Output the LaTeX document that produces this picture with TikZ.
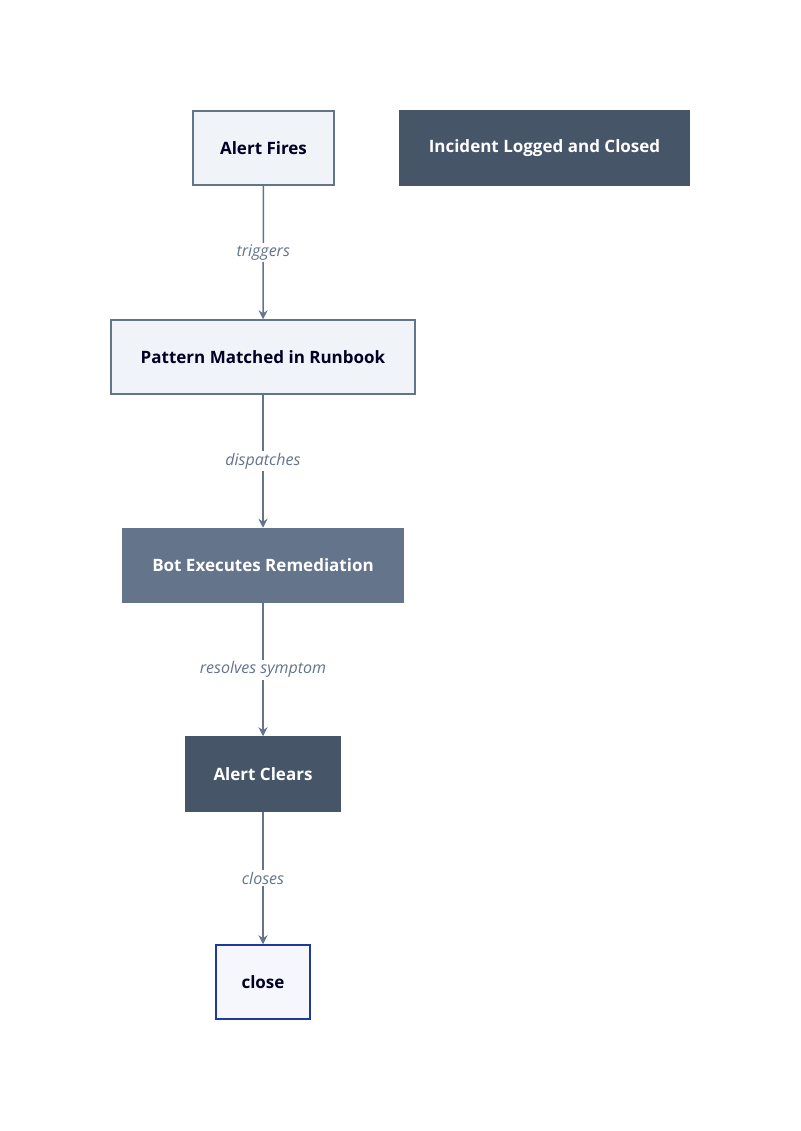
\documentclass[tikz,border=0pt]{standalone}
\usepackage{fontspec}
\setmainfont{Open Sans}
\usetikzlibrary{arrows.meta, positioning}
\definecolor{lightbox}{HTML}{F0F4F8}
\definecolor{edgegray}{HTML}{64748B}
\definecolor{darkbox}{HTML}{475569}
\definecolor{midbox}{HTML}{64748B}
\definecolor{endblue}{HTML}{1E3A9A}
\definecolor{endfill}{HTML}{F5F7FD}
\tikzset{
    box/.style={draw=edgegray,line width=1.5pt,minimum height=74pt,inner sep=0pt,
        font=\fontsize{17}{20}\selectfont\bfseries,text=black!85!blue},
    light/.style={box,fill=lightbox},
    dark/.style={box,fill=darkbox,draw=darkbox,text=white},
    mid/.style={box,fill=midbox,draw=midbox,text=white},
    final/.style={box,fill=endfill,draw=endblue},
    lbl/.style={fill=white,inner sep=2pt,text=edgegray,font=\fontsize{16}{19}\selectfont\itshape},
    flow/.style={draw=edgegray,line width=1.5pt,-{Stealth[length=9pt,width=9pt]}},
}
\begin{document}
\begin{tikzpicture}[x=1pt,y=-1pt]
\useasboundingbox (0,0) rectangle (800,1131);
\node[light, minimum width=141pt] (fires) at (263.5,148) {Alert Fires};
\node[dark, minimum width=289pt] (logged) at (544.5,148) {Incident Logged and Closed};
\node[light, minimum width=304pt] (match) at (263,357) {Pattern Matched in Runbook};
\node[mid, minimum width=280pt] (bot) at (263,565.5) {Bot Executes Remediation};
\node[dark, minimum width=154pt] (clears) at (263,774) {Alert Clears};
\node[final, minimum width=94pt] (close) at (263,982) {close};
\path
    (fires) edge[flow] node[lbl] {triggers} (match)
    (match) edge[flow] node[lbl] {dispatches} (bot)
    (bot) edge[flow] node[lbl] {resolves symptom} (clears)
    (clears) edge[flow] node[lbl] {closes} (close)
;
\end{tikzpicture}
\end{document}
